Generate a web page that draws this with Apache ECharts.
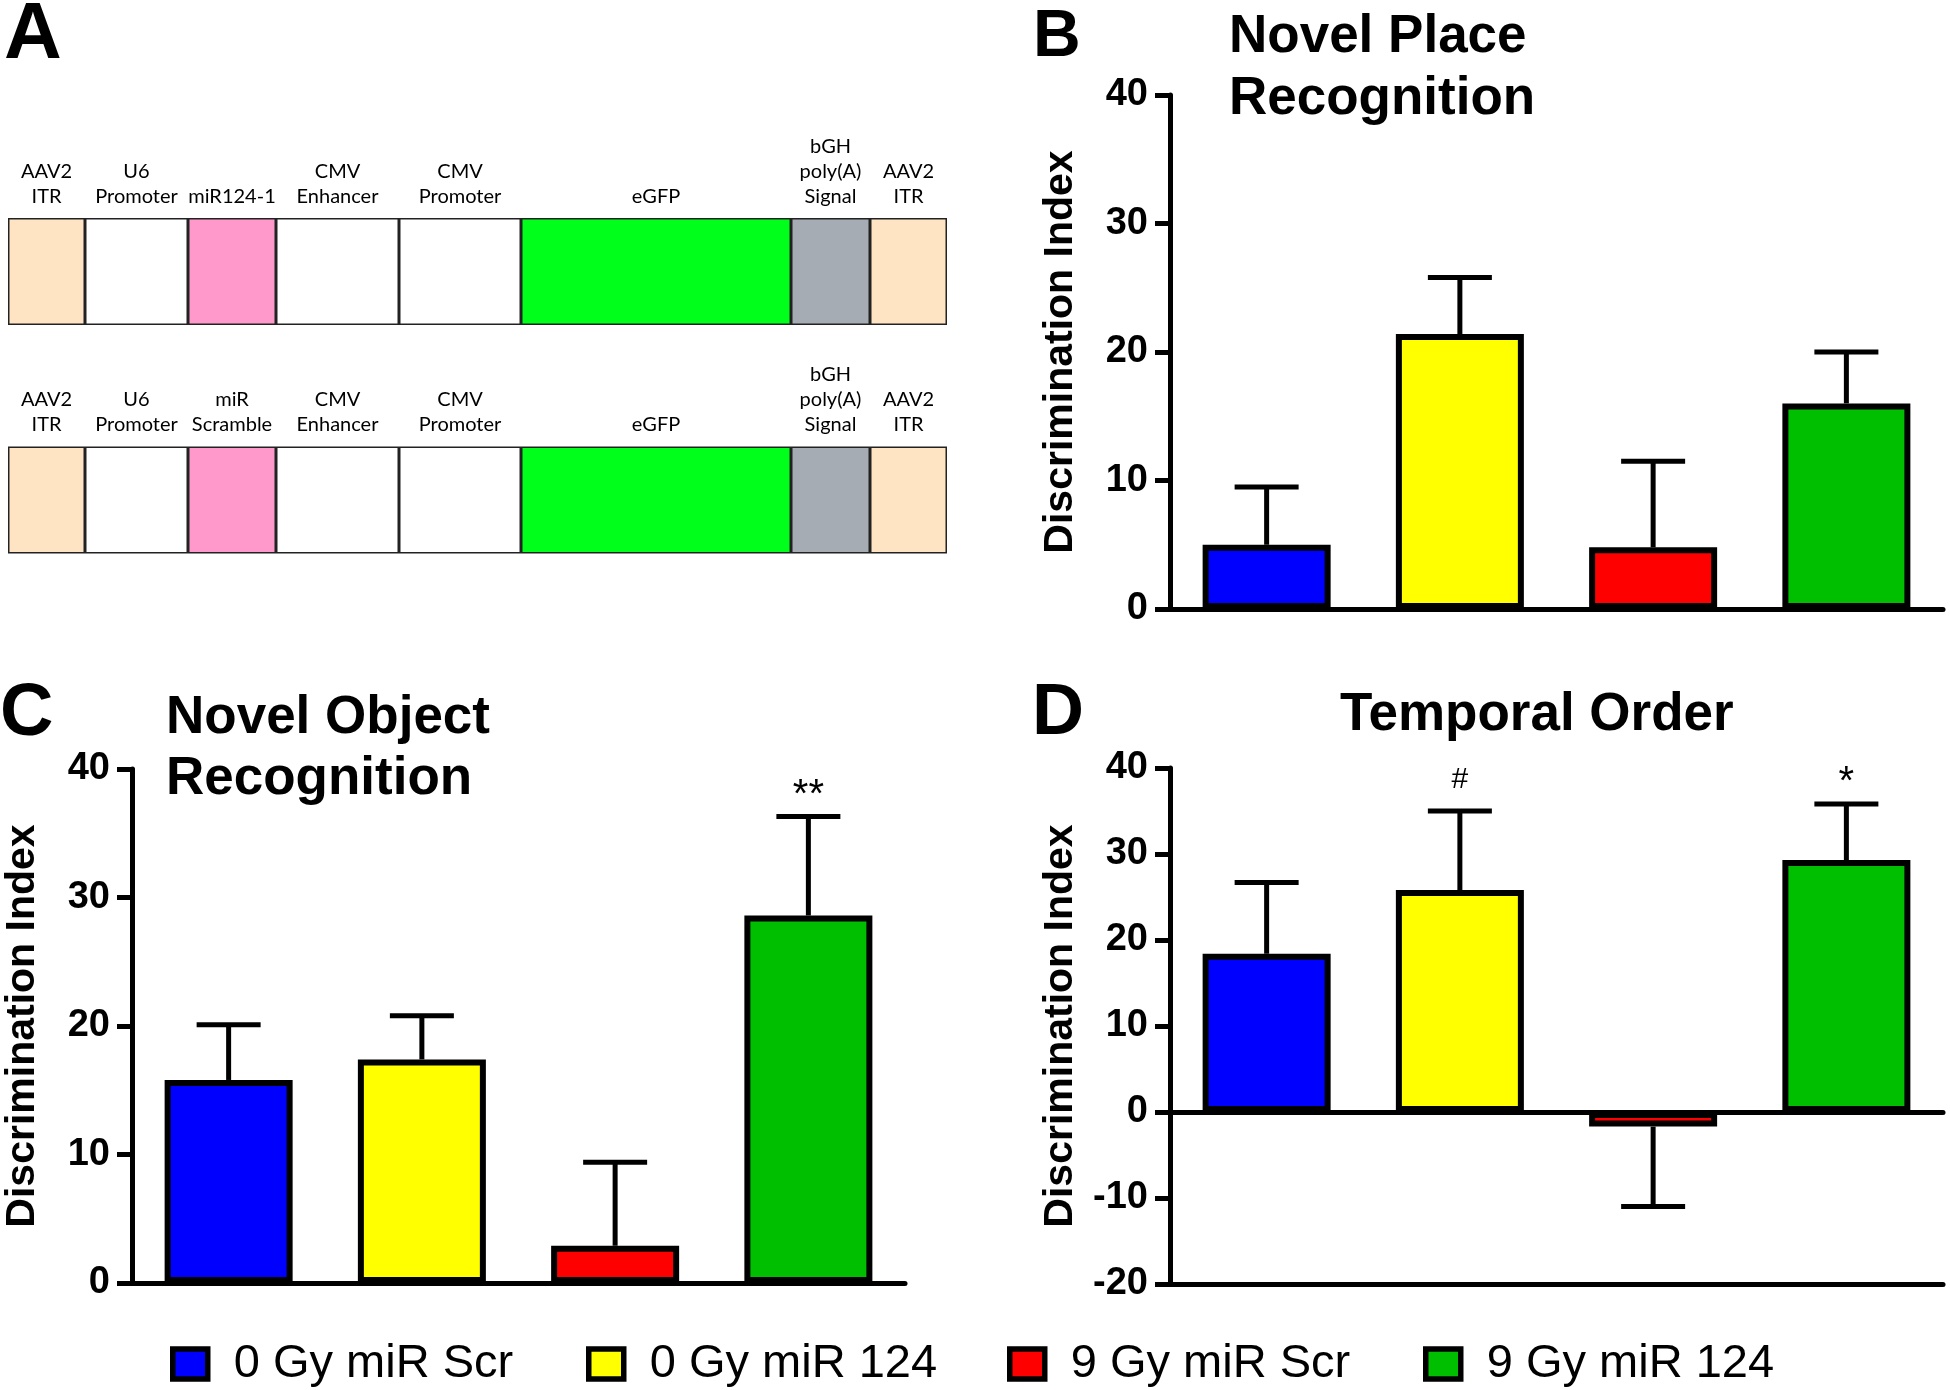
<!DOCTYPE html>
<html><head><meta charset="utf-8">
<script src="https://cdn.jsdelivr.net/npm/echarts@6/dist/echarts.min.js"></script>
<style>html,body{margin:0;padding:0;background:#fff}#c{width:1950px;height:1390px}</style>
</head><body><div id="c"></div>
<script>
// ---------- data ----------
const groups = ['0 Gy miR Scr', '0 Gy miR 124', '9 Gy miR Scr', '9 Gy miR 124'];
const groupColors = ['#0000FF', '#FFFF00', '#FF0000', '#00BF00'];

// B: Novel Place Recognition
const placeMean = [5.0, 21.4, 4.8, 16.0];
const placeSem  = [4.5, 4.4, 6.7, 4.0];
const placeMarks = ['', '', '', ''];
// C: Novel Object Recognition
const objectMean = [15.8, 17.4, 2.9, 28.6];
const objectSem  = [4.3, 3.4, 6.5, 7.7];
const objectMarks = ['', '', '', '**'];
// D: Temporal Order
const temporalMean = [18.4, 25.8, -1.7, 29.3];
const temporalSem  = [8.3, 9.2, 9.3, 6.5];
const temporalMarks = ['', '#', '', '*'];

const yTicksBC = [0, 40, 10];   // min, max, interval
const yTicksD  = [-20, 40, 10];

// A: vector constructs (schematic segment lengths)
const constructs = ['miR124-1 vector', 'miR Scramble vector'];
const segmentKeys = ['AAV2 ITR 5', 'U6 Promoter', 'miR', 'CMV Enhancer', 'CMV Promoter', 'eGFP', 'bGH poly(A) Signal', 'AAV2 ITR 3'];
const segmentLengths = [77, 103, 88, 123, 122, 270, 79, 77];
const segmentColors = ['#FFE4C4', '#FFFFFF', '#FF99CC', '#FFFFFF', '#FFFFFF', '#00FF1A', '#A6ACB3', '#FFE4C4'];
const topLabels = ['AAV2\nITR', 'U6\nPromoter', 'miR124-1', 'CMV\nEnhancer', 'CMV\nPromoter', 'eGFP', 'bGH\npoly(A)\nSignal', 'AAV2\nITR'];
const bottomLabels = ['AAV2\nITR', 'U6\nPromoter', 'miR\nScramble', 'CMV\nEnhancer', 'CMV\nPromoter', 'eGFP', 'bGH\npoly(A)\nSignal', 'AAV2\nITR'];
const constructLabels = [topLabels, bottomLabels];

// ---------- helpers ----------
const FONT = '"Liberation Sans", Arial, sans-serif';
const chart = echarts.init(document.getElementById('c'));
const markFont = { '#': [30, 16], '*': [40, 1], '**': [40, 1] };

function barSeries(means, axisIdx) {
  return groups.map((g, i) => ({
    type: 'bar', name: g, xAxisIndex: axisIdx, yAxisIndex: axisIdx,
    barWidth: 128, barGap: '-100%', z: 2,
    data: means.map((v, j) => j === i ? v : '-'),
    itemStyle: { color: groupColors[i], borderColor: '#000', borderWidth: 6 },
    emphasis: { disabled: true }
  }));
}
function errSeries(means, sems, marks, axisIdx) {
  return {
    type: 'custom', xAxisIndex: axisIdx, yAxisIndex: axisIdx, z: 3, silent: true,
    encode: { x: 0, y: [1, 2] },
    data: means.map((m, j) => [j, m, m + Math.sign(m) * sems[j]]),
    renderItem: function (params, api) {
      const c = api.value(0);
      const p0 = api.coord([c, api.value(1)]);
      const p1 = api.coord([c, api.value(2)]);
      const st = { stroke: '#000', lineWidth: 5 };
      const ch = [
        { type: 'line', shape: { x1: p0[0], y1: p0[1], x2: p1[0], y2: p1[1] }, style: st },
        { type: 'line', shape: { x1: p1[0] - 32, y1: p1[1], x2: p1[0] + 32, y2: p1[1] }, style: st }
      ];
      const mk = marks[params.dataIndex];
      if (mk) {
        const f = markFont[mk];
        ch.push({ type: 'text', x: p1[0], y: p1[1] - f[1],
          style: { text: mk, font: f[0] + 'px ' + FONT, fill: '#000', align: 'center', verticalAlign: 'bottom' } });
      }
      return { type: 'group', children: ch };
    }
  };
}
function valueAxis(gridIdx, t) {
  return {
    gridIndex: gridIdx, type: 'value', min: t[0], max: t[1], interval: t[2],
    name: 'Discrimination Index', nameLocation: 'middle', nameRotate: 90, nameGap: 89,
    nameTextStyle: { fontFamily: FONT, fontWeight: 'bold', fontSize: 41, color: '#000' },
    axisLine: { show: true, lineStyle: { color: '#000', width: 5 } },
    axisTick: { show: true, length: 15, lineStyle: { color: '#000', width: 5 } },
    axisLabel: { margin: 22, fontFamily: FONT, fontWeight: 'bold', fontSize: 38, color: '#000' },
    splitLine: { show: false }
  };
}
function catAxis(gridIdx, onZero) {
  return {
    gridIndex: gridIdx, type: 'category', data: groups, position: 'bottom',
    axisLine: { show: true, onZero: onZero, lineStyle: { color: '#000', width: 5 } },
    axisTick: { show: false }, axisLabel: { show: false }, splitLine: { show: false }
  };
}

const total = segmentLengths.reduce((a, b) => a + b, 0);
const vectorSeries = segmentKeys.map((k, i) => ({
  type: 'bar', name: k, xAxisIndex: 4, yAxisIndex: 3, stack: 'vector', barWidth: 107,
  data: constructs.map(() => segmentLengths[i]),
  itemStyle: { color: segmentColors[i], borderColor: '#222', borderWidth: 1.5 },
  emphasis: { disabled: true },
  label: {
    show: true, position: 'top', distance: 9,
    formatter: p => constructLabels[p.dataIndex][i],
    fontFamily: 'Lato, "Open Sans", sans-serif', fontSize: 20, lineHeight: 25, color: '#000', align: 'center'
  }
}));

const legendLefts = [165, 581, 1002, 1418];
const legends = groups.map((g, i) => ({
  data: [g], left: legendLefts[i], top: 1334, selectedMode: false,
  icon: 'rect', itemWidth: 35, itemHeight: 30,
  itemStyle: { borderColor: '#000', borderWidth: 5.5 },
  textStyle: { fontFamily: FONT, fontSize: 47, lineHeight: 50, color: '#000', padding: [0, 0, 0, 21] }
}));

function txt(text, x, y, size, weight, lh) {
  return { type: 'text', x: x, y: y, silent: true,
    style: { text: text, font: weight + ' ' + size + 'px ' + FONT, fill: '#000', align: 'left', verticalAlign: 'middle', lineHeight: lh || size } };
}

chart.setOption({
  animation: false,
  backgroundColor: '#fff',
  grid: [
    { left: 1170, top: 95, width: 773, height: 514 },
    { left: 132, top: 769, width: 773, height: 514 },
    { left: 1170, top: 768, width: 773, height: 516 },
    { left: 8, top: 157.4, width: 939, height: 456.8 }
  ],
  xAxis: [catAxis(0, true), catAxis(1, true), catAxis(2, true), catAxis(2, false),
    { gridIndex: 3, type: 'value', min: 0, max: total, show: false }],
  yAxis: [valueAxis(0, yTicksBC), valueAxis(1, yTicksBC), valueAxis(2, yTicksD),
    { gridIndex: 3, type: 'category', data: constructs, inverse: true, show: false }],
  legend: legends,
  series: [].concat(
    barSeries(placeMean, 0), [errSeries(placeMean, placeSem, placeMarks, 0)],
    barSeries(objectMean, 1), [errSeries(objectMean, objectSem, objectMarks, 1)],
    barSeries(temporalMean, 2), [errSeries(temporalMean, temporalSem, temporalMarks, 2)],
    vectorSeries
  ),
  graphic: [
    txt('A', 4, 36, 80, 'bold'),
    txt('B', 1033, 38, 66, 'bold'),
    txt('C', 0, 715, 74, 'bold'),
    txt('D', 1032, 714, 72, 'bold'),
    txt('Novel Place\nRecognition', 1229, 68, 53, 'bold', 62),
    txt('Novel Object\nRecognition', 166, 749, 53, 'bold', 61),
    txt('Temporal Order', 1340, 715, 53, 'bold')
  ]
});
</script>
</body></html>
